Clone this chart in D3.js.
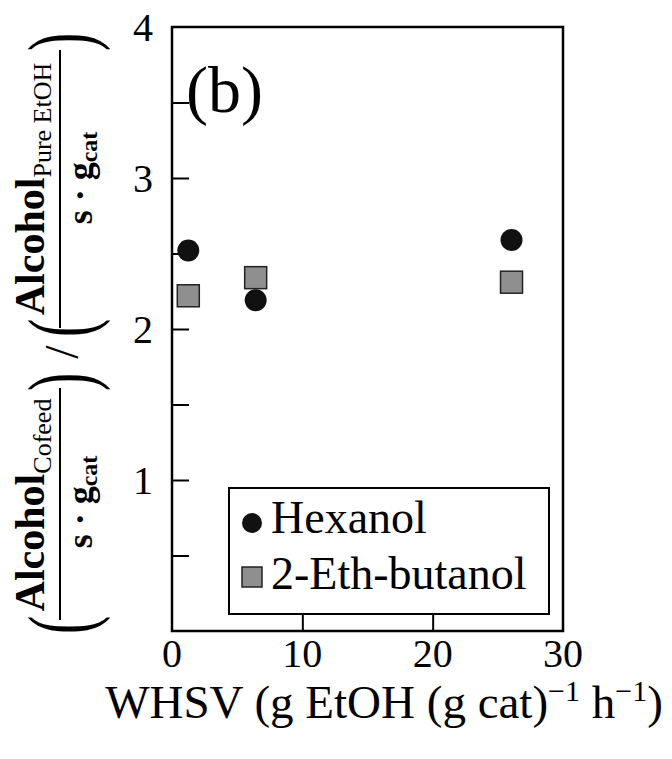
<!DOCTYPE html>
<html>
<head>
<meta charset="utf-8">
<script src="https://cdn.jsdelivr.net/npm/d3@7"></script>
<style>
  html, body { margin: 0; padding: 0; background: #fff; }
  svg { display: block; }
  text { font-family: 'Liberation Serif', 'Times New Roman', serif; fill: #000; }
</style>
</head>
<body>
<svg id="chart" width="672" height="759"></svg>
<script>
// ---- data ----
const seriesNames = ["Hexanol", "2-Eth-butanol"];
const whsv = [1.25, 6.42, 26.05];
const hexanol = [2.52, 2.19, 2.59];
const ethButanol = [2.22, 2.34, 2.31];
const xTicks = [0, 10, 20, 30];
const xTickLabels = ["0", "10", "20", "30"];
const yTicks = [0.5, 1, 1.5, 2, 2.5, 3, 3.5, 4];
const yTickLabels = ["", "1", "", "2", "", "3", "", "4"];
const panelLabel = "(b)";

// ---- layout ----
const svg = d3.select("#chart");
const L = 172, R = 563, T = 27, B = 631;
const x = d3.scaleLinear().domain([0, 30]).range([L, R]);
const y = d3.scaleLinear().domain([0, 4]).range([B, T]);

// inward ticks
const yAxis = d3.axisLeft(y).tickValues(yTicks.filter(v => v < 4)).tickSize(-17).tickFormat("");
svg.append("g").attr("transform", `translate(${L},0)`).call(yAxis)
  .call(g => g.select(".domain").remove())
  .call(g => g.selectAll("line").attr("stroke", "#000").attr("stroke-width", 2));
const xAxis = d3.axisBottom(x).tickValues(xTicks.filter(v => v > 0 && v < 30)).tickSize(-17).tickFormat("");
svg.append("g").attr("transform", `translate(0,${B})`).call(xAxis)
  .call(g => g.select(".domain").remove())
  .call(g => g.selectAll("line").attr("stroke", "#000").attr("stroke-width", 2));

// tick labels
svg.append("g").selectAll("text").data(yTicks).join("text")
  .attr("x", L - 19).attr("y", d => y(d) + 14)
  .attr("text-anchor", "end").attr("font-size", 40)
  .text((d, i) => yTickLabels[i]);
svg.append("g").selectAll("text").data(xTicks).join("text")
  .attr("x", d => x(d)).attr("y", 667)
  .attr("text-anchor", "middle").attr("font-size", 40)
  .text((d, i) => xTickLabels[i]);

// frame
svg.append("rect").attr("x", L).attr("y", T).attr("width", R - L).attr("height", B - T)
  .attr("fill", "none").attr("stroke", "#000").attr("stroke-width", 2.5);

// panel label
svg.append("text").attr("x", 186).attr("y", 112).attr("font-size", 66).text(panelLabel);

// data points
const pts = whsv.map((w, i) => ({ w, h: hexanol[i], e: ethButanol[i] }));
svg.append("g").selectAll("rect").data(pts).join("rect")
  .attr("x", d => x(d.w) - 11).attr("y", d => y(d.e) - 11)
  .attr("width", 22).attr("height", 22)
  .attr("fill", "#8f8f8f").attr("stroke", "#222").attr("stroke-width", 1.5);
svg.append("g").selectAll("circle").data(pts).join("circle")
  .attr("cx", d => x(d.w)).attr("cy", d => y(d.h)).attr("r", 11)
  .attr("fill", "#111");

// legend
const lg = svg.append("g");
lg.append("rect").attr("x", 229).attr("y", 488).attr("width", 320).attr("height", 126)
  .attr("fill", "#fff").attr("stroke", "#000").attr("stroke-width", 2);
lg.append("circle").attr("cx", 252).attr("cy", 523).attr("r", 10).attr("fill", "#111");
lg.append("rect").attr("x", 242).attr("y", 567).attr("width", 20).attr("height", 20)
  .attr("fill", "#8f8f8f").attr("stroke", "#222").attr("stroke-width", 1.5);
lg.append("text").attr("x", 271).attr("y", 533).attr("font-size", 46).text(seriesNames[0]);
lg.append("text").attr("x", 271).attr("y", 589).attr("font-size", 46).text(seriesNames[1]);

// x axis title
const xt = svg.append("text").attr("x", 384).attr("y", 718).attr("text-anchor", "middle").attr("font-size", 47);
xt.append("tspan").text("WHSV (g EtOH (g cat)");
xt.append("tspan").attr("font-size", 30).attr("dy", -17).text("\u22121");
xt.append("tspan").attr("dy", 17).text(" h");
xt.append("tspan").attr("font-size", 30).attr("dy", -17).text("\u22121");
xt.append("tspan").attr("dy", 17).text(")");

// y axis title (rotated): u = -screenY, v = screenX
const yl = svg.append("g").attr("transform", "rotate(-90)");
function paren(u, ch) {
  yl.append("text").attr("transform", `translate(${u},91) scale(0.6,1)`)
    .attr("text-anchor", "middle").attr("font-size", 91).text(ch);
}
function fraction(center, lineFrom, lineTo, denCenter, sub, parenL, parenR) {
  const num = yl.append("text").attr("x", center).attr("y", 44).attr("text-anchor", "middle")
    .attr("font-size", 42).attr("font-weight", "bold");
  num.append("tspan").text("Alcohol");
  num.append("tspan").attr("font-size", 26).attr("font-weight", "normal").attr("dy", 7).text(sub);
  yl.append("line").attr("x1", lineFrom).attr("x2", lineTo).attr("y1", 60).attr("y2", 60)
    .attr("stroke", "#000").attr("stroke-width", 2);
  const den = yl.append("text").attr("x", denCenter).attr("y", 92).attr("text-anchor", "middle")
    .attr("font-size", 36).attr("font-weight", "bold");
  den.append("tspan").text("s \u00b7 g");
  den.append("tspan").attr("font-size", 24).attr("dy", 5).text("cat");
  paren(parenL, "(");
  paren(parenR, ")");
}
fraction(-505, -620, -388, -502, "Cofeed", -625, -382);
fraction(-189, -328, -50, -178, "Pure EtOH", -328, -42);
yl.append("text").attr("x", -352).attr("y", 78).attr("text-anchor", "middle").attr("font-size", 48).text("/");
</script>
</body>
</html>
